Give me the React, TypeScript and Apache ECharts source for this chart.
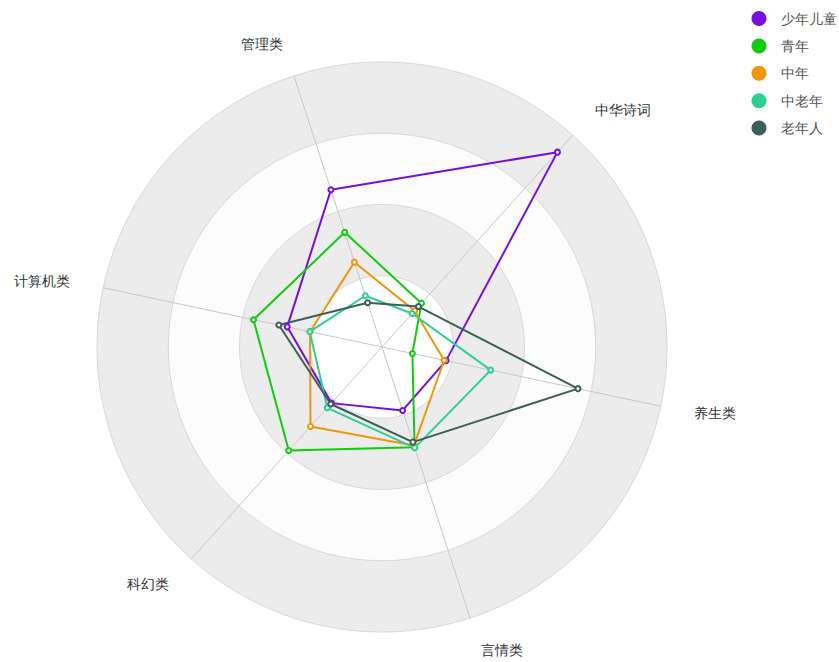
import React, { useEffect, useRef } from "react";
import * as echarts from "echarts";

const indicators = ["中华诗词", "管理类", "计算机类", "科幻类", "言情类", "养生类"];
const seriesNames = ["少年儿童", "青年", "中年", "中老年", "老年人"];
const colors = ["#7a0fdc", "#10cc10", "#f0960e", "#2ecf95", "#3c5f5b"];
const kids = [92, 58, 34, 26.5, 23.4, 23];
const youth = [20.7, 42.3, 46.1, 48.9, 37, 10.9];
const middle = [17.1, 31.3, 25.8, 37.5, 36.3, 22.3];
const senior = [15.8, 18.9, 25.9, 28.7, 37.2, 39];
const elderly = [19.1, 16.3, 37, 26.9, 35.1, 70.3];
const allValues = [kids, youth, middle, senior, elderly];

export default function App() {
  const ref = useRef<HTMLDivElement>(null);
  useEffect(() => {
    if (!ref.current) return;
    const chart = echarts.init(ref.current, null, { renderer: "svg" });
    chart.setOption({
      animation: false,
      color: colors,
      legend: {
        orient: "vertical",
        right: 2,
        top: 11,
        padding: 0,
        icon: "circle",
        itemWidth: 34,
        itemHeight: 15,
        itemGap: 12.4,
        textStyle: { color: "#555", fontSize: 14 },
        data: seriesNames,
      },
      radar: {
        center: [382, 347],
        radius: 285,
        startAngle: 48,
        splitNumber: 4,
        shape: "circle",
        nameGap: 34,
        axisName: { color: "#333", fontSize: 14 },
        indicator: indicators.map((name) => ({ name, max: 100, min: 0 })),
        splitArea: {
          show: true,
          areaStyle: { color: ["#ffffff", "#ececec", "#fcfcfc", "#ececec"] },
        },
        splitLine: { lineStyle: { color: "#d8d8d8" } },
        axisLine: { lineStyle: { color: "#c8c8c8" } },
      },
      series: [
        {
          type: "radar",
          symbol: "emptyCircle",
          symbolSize: 5,
          lineStyle: { width: 2 },
          data: seriesNames.map((name, i) => ({
            name,
            value: allValues[i],
            lineStyle: { width: 2, color: colors[i] },
            itemStyle: { color: colors[i] },
          })),
        },
      ],
    });
    return () => chart.dispose();
  }, []);
  return (
    <div
      ref={ref}
      style={{ position: "fixed", left: 0, top: 0, width: 839, height: 662, background: "#fff" }}
    />
  );
}
